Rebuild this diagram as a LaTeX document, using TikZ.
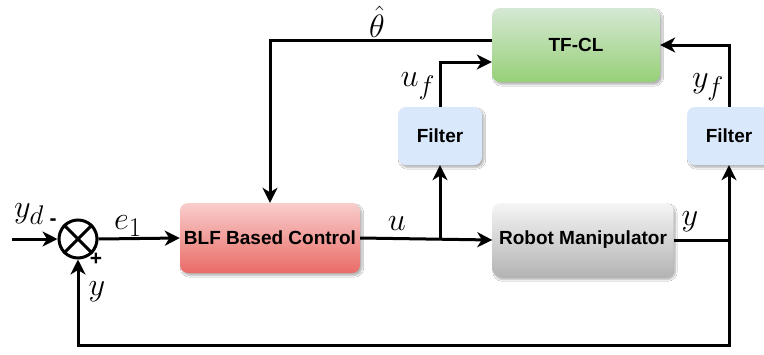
\documentclass[tikz,border=0pt]{standalone}
\usepackage{fontspec}
\newfontfamily\boxfont{Liberation Sans}
\usetikzlibrary{arrows.meta,shadows.blur}

\definecolor{blftop}{HTML}{F8CECC}
\definecolor{blfbot}{HTML}{EA6B66}
\definecolor{robtop}{HTML}{F5F5F5}
\definecolor{robbot}{HTML}{B3B3B3}
\definecolor{tftop}{HTML}{D5E8D4}
\definecolor{tfbot}{HTML}{97D077}
\definecolor{filt}{HTML}{DAE8FC}

% math labels: largest math size, enlarged
\newcommand\mathlbl[1]{\scalebox{1.3}{$#1$}}

\tikzset{
  block/.style={rounded corners=8pt, inner sep=0pt, align=center,
    font=\boxfont\bfseries\fontsize{19}{21}\selectfont,
    blur shadow={shadow xshift=2pt, shadow yshift=-2.5pt, shadow blur steps=6, shadow opacity=30}},
  arr/.style={-{Stealth[length=15pt,width=15pt,inset=4.5pt]}},
  wire/.style={line width=3pt, line join=miter},
  mlab/.style={font=\fontsize{24.88}{28}\selectfont, inner sep=0pt},
  sgn/.style={font=\boxfont\bfseries\fontsize{21}{22}\selectfont, inner sep=0pt},
}

\begin{document}
\begin{tikzpicture}[x=1pt,y=-1pt]
\clip (0,0) rectangle (764,354);
\fill[white] (0,0) rectangle (764,354);

% blocks
\node[block, minimum width=180pt, minimum height=70pt, top color=blftop, bottom color=blfbot] (blf) at (270,238) {BLF Based Control};
\node[block, minimum width=181pt, minimum height=74pt, top color=robtop, bottom color=robbot] (rob) at (583,240) {Robot Manipulator};
\node[block, minimum width=168pt, minimum height=74pt, top color=tftop, bottom color=tfbot] (tf) at (576,45) {TF-CL};
\node[block, minimum width=84pt, minimum height=58pt, fill=filt] (f1) at (440,136) {Filter};
\node[block, minimum width=84pt, minimum height=58pt, fill=filt] (f2) at (729,136) {Filter};

% summing junction
\node[circle, draw, line width=3pt, minimum size=38pt, inner sep=0pt, fill=white] (s) at (78,239) {};
\draw[line width=3pt] (s.north west) -- (s.south east) (s.north east) -- (s.south west);

% helper points
\coordinate (in) at (12,239);
\coordinate (br) at (440,238);
\coordinate (yj) at (729,240);
\coordinate (fb) at (729,345);
\path (tf.west) ++(0,17) coordinate (tfin);
\path (tf.west) ++(0,-5) coordinate (tfout);

% connectors
\draw[wire, arr] (in) -- (s.west);
\draw[wire, arr] (s.east) -- (blf.west);
\draw[wire, arr] (blf.east) -- (rob.west);
\draw[wire, arr] (br) -- (f1.south);
\draw[wire, arr] (rob.east) -| (f2.south);
\draw[wire, arr] (yj) -- (fb) -| (s.south);
\draw[wire, arr] (f1.north) |- (tfin);
\draw[wire, arr] (f2.north) |- (tf.east);
\draw[wire, arr] (tfout) -| (blf.north);

% labels
\node[mlab] (lyd) at (29,214) {\mathlbl{y_d}};
\node[sgn] (lminus) at (53,222) {-};
\node[sgn] (lplus) at (96,259) {+};
\node[mlab] (ly1) at (97,292) {\mathlbl{y}};
\node[mlab] (le) at (128,226) {\mathlbl{e_1}};
\node[mlab] (lu) at (397,224) {\mathlbl{u}};
\node[mlab] (ly2) at (690,222) {\mathlbl{y}};
\node[mlab] (luf) at (418,86) {\mathlbl{u_f}};
\node[mlab] (lyf) at (708,87) {\mathlbl{y_f}};
\node[mlab] (lth) at (377,22) {\mathlbl{\hat{\theta}}};
\end{tikzpicture}
\end{document}
